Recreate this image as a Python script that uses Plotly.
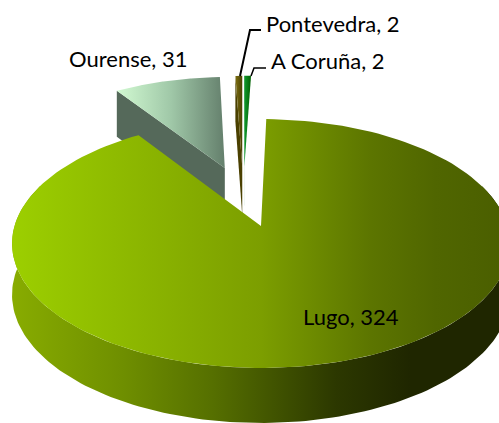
import numpy as np
import plotly.graph_objects as go

# data
categories = ["Lugo", "Ourense", "Pontevedra", "A Coruña"]
values = [324, 31, 2, 2]

# styling per slice
top_colors = [
    [[0, "#9ccf00"], [0.5, "#7c9e00"], [0.72, "#5c7500"], [0.85, "#506600"], [1, "#4a5e00"]],
    [[0, "#d2fad2"], [0.5, "#a0c8a8"], [1, "#647f6c"]],
    [[0, "#7d6f12"], [1, "#4a4000"]],
    [[0, "#129a30"], [1, "#006000"]],
]
wall_colors = ["#55695a", "#55695a", "#4a4000", "#0f7d30"]
front_scale = [[0, "#88ac00"], [0.22, "#6f8f00"], [0.4, "#567000"], [0.65, "#2c3800"], [0.8, "#1f2600"], [1, "#1f2600"]]

# projection of the pie plane onto the page
CX, CY, A, B, K = 261, 226, 246.5, 122, 0.1406
D, KD = 50.7, 0.0784
R_OUT, EXPLODE, START = 0.965, 0.267, 1.4


def project(u, v, base=False):
    u, v = np.asarray(u, float), np.asarray(v, float)
    w = 1 + K * v
    x = CX + A * u / w
    y = CY - B * v / w
    if base:
        y = y + D / (1 + KD * v)
    return x, y


total = sum(values)
spans = [val / total * 360 for val in values]
starts = START + np.concatenate([[0], np.cumsum(spans)[:-1]])
mids = starts + np.array(spans) / 2
dirs = np.c_[np.sin(np.radians(mids)), np.cos(np.radians(mids))]
centers = EXPLODE * (dirs - dirs[0])
radii = [1.0] + [R_OUT] * (len(values) - 1)

fig = go.Figure()


def poly(x, y, name, color=None, grad=None):
    kw = dict(fillcolor=color) if color else dict(fillgradient=grad)
    fig.add_trace(go.Scatter(x=x, y=y, mode="lines", fill="toself", line=dict(width=0),
                             name=name, hoverinfo="name", showlegend=False, **kw))


def arc(i, a0, a1, n=160):
    t = np.radians(np.linspace(a0, a1, n))
    return centers[i][0] + radii[i] * np.sin(t), centers[i][1] + radii[i] * np.cos(t)


def radial_wall(i, angle):
    u0, v0 = centers[i]
    u1, v1 = arc(i, angle, angle, 1)
    us = np.array([u0, u1[0], u1[0], u0])
    vs = np.array([v0, v1[0], v1[0], v0])
    tx, ty = project(us[:2], vs[:2])
    bx, by = project(us[2:], vs[2:], base=True)
    return np.r_[tx, bx], np.r_[ty, by]


def top(i):
    u, v = arc(i, starts[i], starts[i] + spans[i])
    x, y = project(np.r_[centers[i][0], u], np.r_[centers[i][1], v])
    return x, y


# back slices: side face, then top face
for i in (1, 2, 3):
    wx, wy = radial_wall(i, starts[i])
    poly(wx, wy, categories[i], color=wall_colors[i])
    x, y = top(i)
    poly(x, y, categories[i], grad=dict(type="horizontal", colorscale=top_colors[i]))

# front slice: rim, then top face
u, v = arc(0, 70, 290)
tx, ty = project(u, v)
bx, by = project(u, v, base=True)
poly(np.r_[tx, bx[::-1]], np.r_[ty, by[::-1]], categories[0],
     grad=dict(type="horizontal", colorscale=front_scale))
x, y = top(0)
poly(x, y, categories[0], grad=dict(type="horizontal", colorscale=top_colors[0]))

FONT = "Lato"
labels = [
    (f"{categories[0]}, {values[0]}", 351, 316),
    (f"{categories[1]}, {values[1]}", 128, 58),
    (f"{categories[2]}, {values[2]}", 333, 23),
    (f"{categories[3]}, {values[3]}", 328, 60),
]
for text, lx, ly in labels:
    fig.add_annotation(x=lx, y=ly, text=text, showarrow=False, xanchor="center", yanchor="middle",
                       font=dict(family=FONT, size=22, color="#000000"))

fig.update_layout(
    width=499, height=423, autosize=False,
    margin=dict(l=0, r=0, t=0, b=0),
    paper_bgcolor="#ffffff", plot_bgcolor="#ffffff",
    xaxis=dict(range=[0, 499], visible=False, fixedrange=True),
    yaxis=dict(range=[423, 0], visible=False, fixedrange=True),
    shapes=[
        dict(type="path", path="M 240 76 L 250 30 L 261 30", line=dict(color="#000000", width=2)),
        dict(type="path", path="M 251 76 L 254 68 L 266 68", line=dict(color="#000000", width=1.5)),
    ],
)
fig.write_html("out.html", config={"displayModeBar": False},
               post_script="document.body.style.margin='0';document.documentElement.style.overflow='hidden';")
